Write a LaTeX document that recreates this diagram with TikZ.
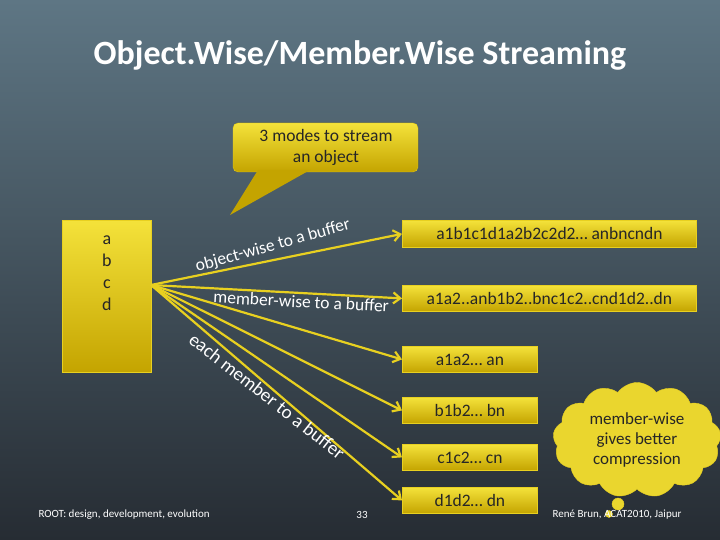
\documentclass[tikz,border=0pt]{standalone}
\usepackage{fontspec}
\setmainfont{Carlito}
\usetikzlibrary{shapes.symbols,arrows.meta,calc}
\definecolor{ytop}{HTML}{F4E23A}
\definecolor{ybot}{HTML}{C4A400}
\definecolor{yline}{HTML}{E8D020}
\definecolor{bgtop}{HTML}{5E7684}
\definecolor{bgbot}{HTML}{262C33}
\tikzset{
  ybox/.style={draw=yline,line width=0.8pt,top color=ytop,bottom color=ybot,inner sep=0pt,font=\fontsize{17.5}{20}\selectfont,text=black!85},
  arr/.style={draw=yline,line width=2.2pt,-{Straight Barb[length=7pt,width=11pt]}},
  lbl/.style={text=white,font=\fontsize{17.5}{20}\selectfont},
}
\begin{document}
\begin{tikzpicture}[x=1pt,y=-1pt]
\useasboundingbox (0,0) rectangle (720,540);
\shade[top color=bgtop,bottom color=bgbot] (0,0) rectangle (720,540);
\node[text=white,font=\bfseries\fontsize{34}{38}\selectfont] (title) at (360,55) {Object.Wise/Member.Wise Streaming};
% callout
\fill[top color=ytop,bottom color=ybot,draw=yline,rounded corners=5pt] (233,123) rectangle (418,172);
\fill[ybot,draw=none] (258,170) -- (230,215) -- (310,170) -- cycle;
\node[text=black!85,font=\fontsize{17.5}{21}\selectfont,align=center] (callout) at (326,147) {3 modes to stream\\an object};
% left box
\node[ybox,minimum width=89pt,minimum height=152pt,align=center,anchor=north west,font=\fontsize{18}{22}\selectfont] (obj) at (62,220) {a\\b\\c\\d\\[24pt]};
\coordinate (src) at (151,285);
% right boxes
\node[ybox,minimum width=294pt,minimum height=27pt,anchor=north west] (b1) at (402,220) {a1b1c1d1a2b2c2d2… anbncndn};
\node[ybox,minimum width=294pt,minimum height=26pt,anchor=north west] (b2) at (402,285) {a1a2..anb1b2..bnc1c2..cnd1d2..dn};
\node[ybox,minimum width=135pt,minimum height=26pt,anchor=north west] (ba) at (402,346) {a1a2… an};
\node[ybox,minimum width=135pt,minimum height=26pt,anchor=north west] (bb) at (402,397) {b1b2… bn};
\node[ybox,minimum width=135pt,minimum height=26pt,anchor=north west] (bc) at (402,444) {c1c2… cn};
\node[ybox,minimum width=135pt,minimum height=26pt,anchor=north west] (bd) at (402,487) {d1d2… dn};
\draw[arr] (src) -- (b1.west) node[lbl,pos=0.5,above=2pt,sloped,rotate=4] {object-wise to a buffer};
\draw[arr] (src) -- (b2.west) node[lbl,pos=0.6,below=-2pt,sloped] {member-wise to a buffer};
\draw[arr] (src) -- (ba.west);
\draw[arr] (src) -- (bb.west);
\draw[arr] (src) -- (bc.west);
\draw[arr] (src) -- (bd.west);
\node[lbl,rotate=-38,font=\fontsize{19}{22}\selectfont] (each) at (267,396) {each member to a buffer};
% cloud
\node[cloud,cloud puffs=13,cloud puff arc=110,aspect=1.5,draw=yline,fill=ytop!80!ybot,minimum width=168pt,minimum height=115pt,align=center,text=black!85,font=\fontsize{17}{20}\selectfont,inner sep=0pt] (cloud) at (637,440) {member-wise\\gives better\\compression};
\node[circle,draw=yline,fill=ytop!80!ybot,minimum size=12pt,inner sep=0pt] (p1) at (618,504) {};
\node[circle,draw=yline,fill=ytop!80!ybot,minimum size=7pt,inner sep=0pt] (p2) at (609,514) {};
% footer
\node[text=white,font=\fontsize{11}{13}\selectfont,anchor=west] (f1) at (35,515) {ROOT: design, development, evolution};
\node[text=white,font=\fontsize{11}{13}\selectfont] (f2) at (362,515) {33};
\node[text=white,font=\fontsize{11}{13}\selectfont,anchor=west] (f3) at (549,515) {René Brun, ACAT2010, Jaipur};
\end{tikzpicture}
\end{document}
